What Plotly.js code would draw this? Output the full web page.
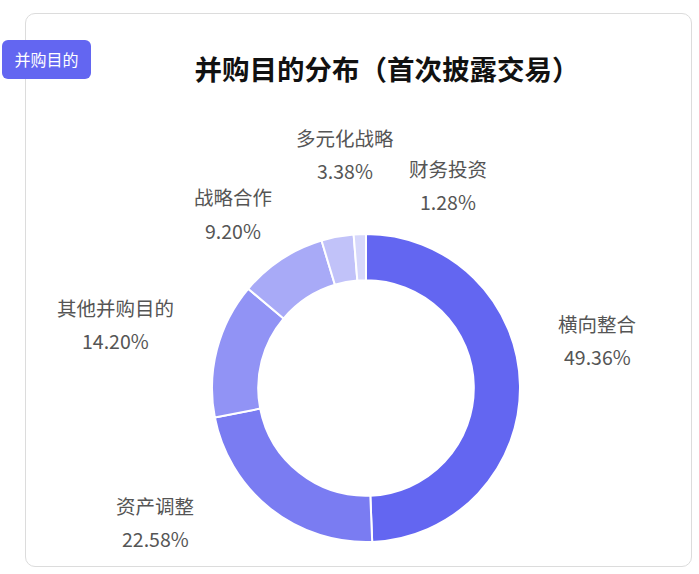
<!DOCTYPE html>
<html>
<head>
<meta charset="utf-8">
<script src="https://cdn.plot.ly/plotly-3.0.1.min.js"></script>
<style>
  html, body { margin: 0; padding: 0; background: #ffffff; }
  #card { position: absolute; left: 25px; top: 13px; width: 667px; height: 554px; box-sizing: border-box;
          border: 1px solid #dcdcdc; border-radius: 10px; background: #fff; }
  #chart { position: absolute; left: 0; top: 0; width: 699px; height: 574px; }
  #badge { position: absolute; left: 2px; top: 40px; width: 89px; height: 39px; background: #6366f1;
           border-radius: 6px; color: #fff; font-family: "Noto Sans CJK SC", "Noto Sans", sans-serif;
           font-size: 16px; line-height: 39px; text-align: center; }
</style>
</head>
<body>
<div id="card"></div>
<div id="chart"></div>
<div id="badge">并购目的</div>
<script>
// Data
const categories = ["横向整合", "资产调整", "其他并购目的", "战略合作", "多元化战略", "财务投资"];
const shares = [49.36, 22.58, 14.20, 9.20, 3.38, 1.28];
const pctLabels = ["49.36%", "22.58%", "14.20%", "9.20%", "3.38%", "1.28%"];

// Styles / positions (pixels in the 699x574 page)
const sliceColors = ["#6366f1", "#7a7cf2", "#9193f5", "#a8aaf7", "#c1c2f9", "#d7d8fb"];
const labelPosPx = [[597, 323], [155, 505], [115, 307], [233, 197], [345, 137], [448, 168]];
const W = 699, H = 574;
const lineGap = 33;

const annotations = [];
categories.forEach((c, i) => {
  const [px, py] = labelPosPx[i];
  annotations.push({ xref: "paper", yref: "paper", x: px / W, y: 1 - py / H, text: c, showarrow: false,
    xanchor: "center", yanchor: "middle", font: { size: 19.5, color: "#555555", family: "Noto Sans CJK SC, sans-serif" } });
  annotations.push({ xref: "paper", yref: "paper", x: px / W, y: 1 - (py + lineGap) / H, text: pctLabels[i], showarrow: false,
    xanchor: "center", yanchor: "middle", font: { size: 19.5, color: "#555555", family: "Noto Sans CJK SC, sans-serif" } });
});

const trace = {
  type: "pie",
  labels: categories,
  values: shares,
  sort: false,
  direction: "clockwise",
  rotation: 0,
  hole: 0.70,
  textinfo: "none",
  hoverinfo: "label+percent",
  marker: { colors: sliceColors, line: { color: "#ffffff", width: 2 } },
  domain: { x: [212 / W, 520 / W], y: [1 - 542 / H, 1 - 234 / H] },
  showlegend: false
};

const layout = {
  width: W, height: H,
  margin: { l: 0, r: 0, t: 0, b: 0 },
  paper_bgcolor: "rgba(0,0,0,0)",
  plot_bgcolor: "rgba(0,0,0,0)",
  title: { text: "<b>并购目的分布（首次披露交易）</b>", xref: "container", yref: "container",
           x: 387 / W, y: 1 - 70 / H, xanchor: "center", yanchor: "middle",
           font: { size: 27.5, color: "#111111", family: "Noto Sans CJK SC, sans-serif" } },
  annotations: annotations,
  showlegend: false
};

Plotly.newPlot("chart", [trace], layout, { displayModeBar: false, staticPlot: true });
</script>
</body>
</html>
